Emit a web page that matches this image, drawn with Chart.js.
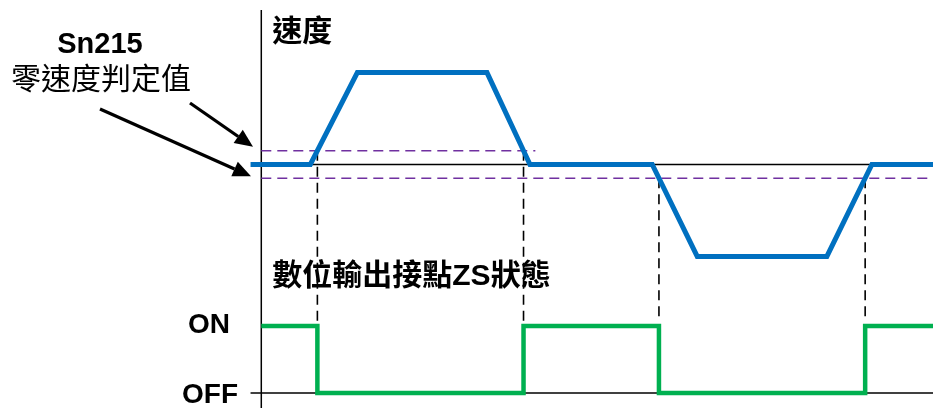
<!DOCTYPE html>
<html>
<head>
<meta charset="utf-8">
<script src="https://cdn.jsdelivr.net/npm/chart.js@4"></script>
<style>
  html, body { margin: 0; padding: 0; background: #fff; }
  #wrap { width: 933px; height: 408px; }
</style>
</head>
<body>
<div id="wrap"><canvas id="zsChart" width="933" height="408"></canvas></div>
<script>
// speed profile (time in arbitrary units, speed in % of max)
const speedTimes  = [-1.6, 7.3, 14.3, 33.6, 40.0, 58.2, 64.9, 84.2, 90.9, 100];
const speedValues = [0, 0, 100, 100, 0, 0, -100, -100, 0, 0];

// zero speed threshold (Sn215)
const zeroSpeedLevel = 15;
const upperThresholdEnd = 40.8;

// ZS output switching points, 1 = ON, 0 = OFF
const dioTimes  = [0, 8.35, 39.04, 59.2, 89.9, 100];
const dioStates = [1, 0, 1, 0, 1, 1];

// dashed markers where speed crosses the threshold
const markerTimes  = [8.35, 39.04, 59.2, 89.9];
const markerLevels = [15, 15, -15, -15];
const markerBottom = -171;

const dioLabels = ['OFF', 'ON'];

const FONT = "'Liberation Sans', 'Noto Sans CJK TC', sans-serif";

const speedData = speedTimes.map((t, i) => ({x: t, y: speedValues[i]}));
const dioData = dioTimes.map((t, i) => ({x: t, y: dioStates[i]}));
const markerData = [];
markerTimes.forEach((t, i) => {
    markerData.push({x: t, y: markerLevels[i]}, {x: t, y: markerBottom}, {x: t, y: null});
});

function line(data, color, width, yAxisID, dash) {
    return {
        data: data, yAxisID: yAxisID,
        borderColor: color, borderWidth: width,
        borderDash: dash || [], pointRadius: 0, tension: 0,
        fill: false, spanGaps: false, borderCapStyle: 'butt'
    };
}

const annotations = {
    id: 'annotations',
    afterDatasetsDraw(chart) {
        const ctx = chart.ctx;
        const ys = chart.scales.ySpeed, yd = chart.scales.yDio, x = chart.scales.x;
        ctx.save();
        ctx.fillStyle = '#000';

        ctx.font = 'bold 30px ' + FONT;
        ctx.textAlign = 'left';
        ctx.textBaseline = 'middle';
        ctx.fillText('速度', x.getPixelForValue(0) + 11, 33);
        ctx.fillText('數位輸出接點ZS狀態', x.getPixelForValue(0) + 11, 277);

        ctx.font = 'bold 29px ' + FONT;
        ctx.textAlign = 'center';
        ctx.textBaseline = 'alphabetic';
        ctx.fillText('Sn215', 100, 53);
        ctx.font = '30px ' + FONT;
        ctx.textBaseline = 'middle';
        ctx.fillText('零速度判定值', 101, 81);

        ctx.font = 'bold 28px ' + FONT;
        ctx.textBaseline = 'alphabetic';
        ctx.fillText(dioLabels[1], 209, yd.getPixelForValue(1) + 7);
        ctx.fillText(dioLabels[0], 210, yd.getPixelForValue(0) + 10);

        // arrows pointing at the two threshold lines
        const arrow = (x0, y0, x1, y1) => {
            const a = Math.atan2(y1 - y0, x1 - x0), L = 18, W = 8;
            const bx = x1 - L * Math.cos(a), by = y1 - L * Math.sin(a);
            ctx.strokeStyle = '#000';
            ctx.lineWidth = 3.2;
            ctx.beginPath(); ctx.moveTo(x0, y0); ctx.lineTo(bx, by); ctx.stroke();
            ctx.beginPath();
            ctx.moveTo(x1, y1);
            ctx.lineTo(bx + W * Math.sin(a), by - W * Math.cos(a));
            ctx.lineTo(bx - W * Math.sin(a), by + W * Math.cos(a));
            ctx.closePath(); ctx.fill();
        };
        arrow(190, 103, 253, ys.getPixelForValue(zeroSpeedLevel) - 4);
        arrow(100, 109, 251, ys.getPixelForValue(-zeroSpeedLevel) - 2);
        ctx.restore();
    }
};

const dioSet = line(dioData, '#00B050', 4.5, 'yDio');
dioSet.stepped = true;

new Chart(document.getElementById('zsChart'), {
    type: 'line',
    data: {
        datasets: [
            line(speedData, '#0070C0', 5, 'ySpeed'),
            dioSet,
            line([{x: 0, y: zeroSpeedLevel}, {x: upperThresholdEnd, y: zeroSpeedLevel}], '#7030A0', 1.5, 'ySpeed', [10, 6]),
            line([{x: 0, y: -zeroSpeedLevel}, {x: 100, y: -zeroSpeedLevel}], '#7030A0', 1.5, 'ySpeed', [10, 6]),
            line(markerData, '#000', 1.6, 'ySpeed', [10, 6]),
            line([{x: 0, y: 0}, {x: 100, y: 0}], '#000', 1.5, 'ySpeed'),
            line([{x: -1.6, y: 0}, {x: 100, y: 0}], '#000', 1.5, 'yDio'),
            line([{x: 0, y: 168}, {x: 0, y: -265}], '#000', 1.5, 'ySpeed')
        ]
    },
    options: {
        responsive: false,
        animation: false,
        layout: {padding: 0},
        plugins: {legend: {display: false}, tooltip: {enabled: false}},
        scales: {
            x: {type: 'linear', min: -38.9, max: 100, display: false},
            ySpeed: {type: 'linear', min: -265, max: 179, display: false},
            yDio: {type: 'linear', min: -0.224, max: 5.87, display: false}
        }
    },
    plugins: [annotations]
});
</script>
</body>
</html>
